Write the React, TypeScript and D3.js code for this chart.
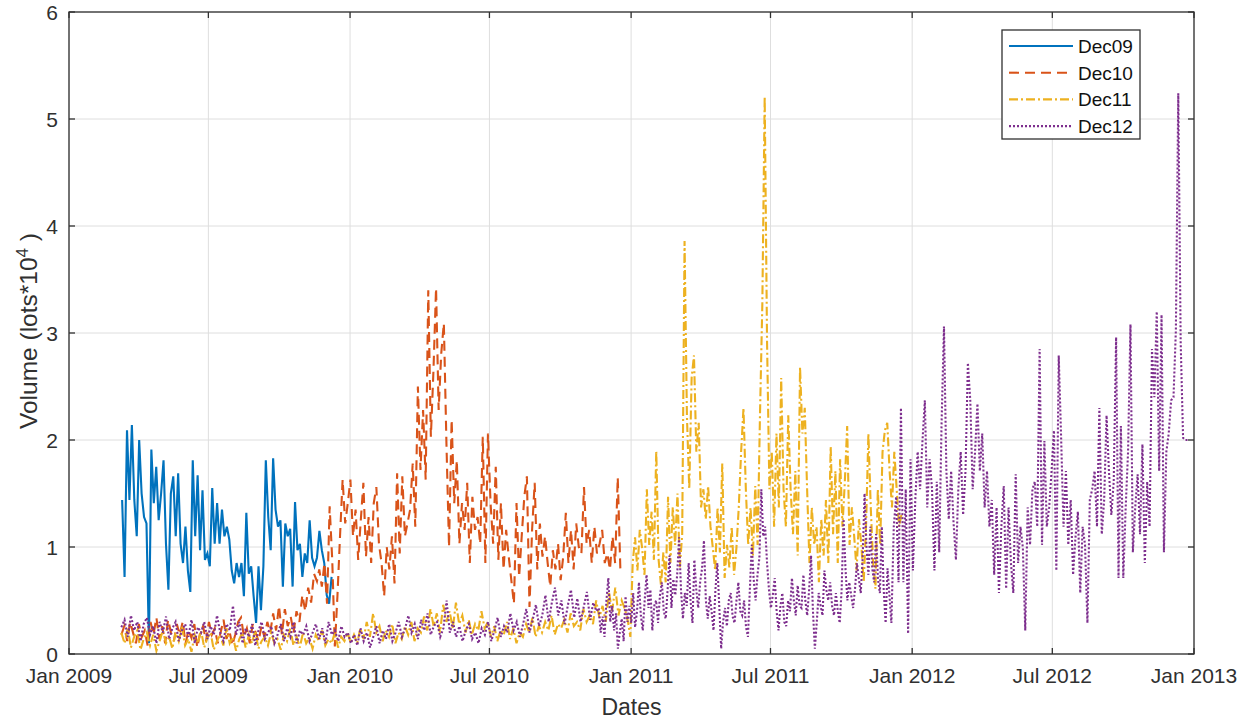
import * as d3 from "d3";

// each segment: values, spread evenly between two dates
const dec09Span = ["2009-03-11", "2009-12-08"];
const dec09Values = [
  1.44, 0.72, 2.09, 1.44, 2.14, 1.44, 1.1, 2.0, 1.5, 1.28, 1.22, 0.1, 1.91, 1.41, 1.75, 1.25, 1.5, 1.81, 1.03, 0.6,
  1.5, 1.66, 1.1, 1.69, 1.03, 0.85, 1.19, 0.78, 0.58, 1.81, 1.1, 1.67, 0.97, 1.53, 0.88, 0.94, 0.82, 1.55, 1.03, 1.41,
  1.03, 1.35, 1.1, 1.19, 1.07, 0.78, 0.66, 0.85, 0.72, 0.85, 0.54, 1.32, 0.75, 0.82, 0.54, 0.29, 0.82, 0.41, 0.82, 1.81,
  1.28, 0.97, 1.83, 1.35, 1.19, 1.25, 0.63, 1.22, 1.1, 1.17, 0.63, 1.42, 0.97, 1.03, 0.72, 0.94, 0.85, 1.25, 0.9, 0.82,
  0.9, 1.15, 0.97, 0.85, 0.55, 0.47, 0.72,
];

const dec10EarlySpan = ["2009-03-10", "2009-11-19"];
const dec10EarlyValues = [
  0.18, 0.26, 0.12, 0.3, 0.2, 0.1, 0.28, 0.16, 0.22, 0.08, 0.3, 0.18, 0.34, 0.14, 0.26, 0.1, 0.32, 0.2, 0.12, 0.28,
  0.18, 0.3, 0.1, 0.22, 0.15, 0.28, 0.06, 0.2, 0.26, 0.12, 0.3, 0.18, 0.24, 0.1, 0.2, 0.32, 0.14, 0.22, 0.08, 0.18,
  0.3, 0.34, 0.16, 0.24, 0.1, 0.28, 0.2, 0.12, 0.26, 0.16, 0.3, 0.2, 0.38, 0.22, 0.45, 0.18, 0.42, 0.26, 0.35, 0.2,
  0.4, 0.3, 0.55, 0.4, 0.62, 0.48, 0.75, 0.68,
];
const dec10LateSpan = ["2009-11-22", "2010-12-18"];
const dec10LateValues = [
  0.79, 0.63, 0.85, 0.47, 1.38, 0.88, 0.07, 0.54, 1.1, 1.63, 1.22, 1.41, 1.63, 1.1, 1.35, 0.88, 1.25, 1.6, 0.91, 1.28,
  0.85, 1.41, 1.56, 1.03, 0.85, 0.54, 1.0, 0.79, 1.1, 0.66, 1.69, 0.94, 1.66, 1.1, 1.22, 1.35, 1.78, 1.19, 2.5, 1.72,
  2.28, 1.63, 3.4, 2.03, 2.65, 3.42, 2.28, 2.81, 3.09, 1.97, 1.0, 2.19, 1.41, 1.81, 1.03, 1.41, 1.16, 1.6, 0.85, 1.47,
  1.16, 1.28, 1.03, 2.03, 0.85, 2.06, 1.41, 1.03, 1.75, 0.88, 1.41, 0.79, 1.16, 0.91, 0.69, 0.47, 1.41, 0.72, 1.1, 1.47,
  1.66, 0.44, 1.16, 1.6, 0.79, 1.22, 0.91, 1.1, 0.85, 0.63, 0.97, 0.79, 1.03, 0.69, 0.91, 1.32, 0.85, 1.16, 0.79, 1.22,
  1.0, 0.94, 1.56, 1.03, 1.16, 0.85, 1.19, 0.94, 1.03, 1.16, 0.85, 0.94, 0.79, 1.1, 0.85, 1.65, 0.8,
];

const dec11EarlySpan = ["2009-03-10", "2010-12-28"];
const dec11EarlyValues = [
  0.2, 0.1, 0.24, 0.06, 0.16, 0.22, 0.04, 0.14, 0.2, 0.08, 0.18, 0.03, 0.12, 0.22, 0.1, 0.16, 0.05, 0.2, 0.12, 0.26,
  0.08, 0.14, 0.02, 0.18, 0.1, 0.22, 0.06, 0.15, 0.2, 0.04, 0.12, 0.18, 0.08, 0.24, 0.1, 0.16, 0.03, 0.14, 0.2, 0.06,
  0.18, 0.1, 0.22, 0.05, 0.12, 0.16, 0.08, 0.2, 0.1, 0.14, 0.04, 0.18, 0.12, 0.24, 0.08, 0.16, 0.06, 0.2, 0.1, 0.15,
  0.05, 0.18, 0.12, 0.22, 0.08, 0.14, 0.1, 0.2, 0.06, 0.16, 0.12, 0.2, 0.1,
  0.18, 0.1, 0.24, 0.14, 0.3, 0.16, 0.38, 0.2, 0.26, 0.12, 0.22, 0.16, 0.28, 0.1, 0.2, 0.14, 0.26, 0.18, 0.3, 0.12,
  0.24, 0.2, 0.35, 0.22, 0.42, 0.26, 0.38, 0.2, 0.46, 0.3, 0.4, 0.24, 0.48, 0.28, 0.36, 0.2, 0.32, 0.18, 0.28, 0.22,
  0.4, 0.24, 0.3, 0.16, 0.26, 0.12, 0.22, 0.18, 0.3, 0.14, 0.24, 0.1, 0.2, 0.16, 0.28, 0.2, 0.34, 0.16, 0.26, 0.2,
  0.3, 0.22, 0.36, 0.18, 0.28, 0.24, 0.32, 0.2, 0.38, 0.26, 0.3, 0.22, 0.42, 0.3, 0.36, 0.28, 0.5, 0.34, 0.45, 0.3,
  0.58, 0.4, 0.62, 0.36, 0.5, 0.42, 0.3,
];
const dec11LateSpan = ["2010-12-31", "2011-12-18"];
const dec11LateValues = [
  0.16, 0.85, 1.09, 0.78, 1.16, 0.99, 0.74, 1.54, 1.02, 1.33, 0.88, 1.9, 0.88, 0.64, 0.95, 0.67, 1.47, 0.85, 1.37, 1.02,
  1.5, 0.81, 1.12, 3.86, 2.23, 1.54, 2.58, 2.79, 1.89, 2.16, 1.37, 1.54, 1.26, 1.57, 1.19, 0.99, 0.78, 1.37, 0.95, 1.78,
  0.71, 1.02, 0.81, 1.19, 0.74, 0.99, 1.37, 1.89, 2.3, 1.54, 1.02, 1.37, 0.92, 1.57, 1.02, 2.23, 3.27, 5.21, 2.92, 1.54,
  1.89, 1.19, 2.06, 1.37, 2.58, 1.54, 1.19, 2.23, 1.54, 1.12, 1.71, 0.92, 2.68, 2.06, 2.3, 1.54, 0.85, 1.37, 1.02, 1.19,
  0.67, 1.26, 0.92, 1.44, 0.85, 1.94, 1.12, 1.71, 0.85, 1.82, 1.19, 1.61, 2.13, 1.02, 1.37, 1.09, 0.78, 1.26, 1.02, 0.67,
  1.19, 2.06, 1.37, 0.85, 0.61, 1.54, 1.02, 1.89, 2.09, 2.16, 1.71, 1.37, 1.89, 1.54, 1.19, 1.3,
];

const dec12EarlySpan = ["2009-03-10", "2010-11-17"];
const dec12EarlyValues = [
  0.25, 0.32, 0.16, 0.36, 0.22, 0.3, 0.12, 0.28, 0.34, 0.18, 0.26, 0.1, 0.3, 0.2, 0.35, 0.14, 0.24, 0.3, 0.12, 0.22,
  0.28, 0.16, 0.32, 0.1, 0.25, 0.2, 0.3, 0.14, 0.26, 0.18, 0.36, 0.2, 0.12, 0.28, 0.22, 0.45, 0.18, 0.3, 0.1, 0.24,
  0.16, 0.28, 0.08, 0.22, 0.3, 0.14, 0.2, 0.26, 0.1, 0.18, 0.28, 0.12, 0.24, 0.16, 0.3, 0.1, 0.22, 0.18, 0.26, 0.12,
  0.2, 0.28, 0.14, 0.24, 0.1, 0.3, 0.18, 0.22, 0.12, 0.26, 0.16, 0.2, 0.1,
  0.18, 0.08, 0.24, 0.12, 0.2, 0.06, 0.16, 0.26, 0.1, 0.22, 0.14, 0.28, 0.12, 0.2, 0.3, 0.16, 0.24, 0.36, 0.2, 0.28,
  0.14, 0.32, 0.22, 0.38, 0.18, 0.26, 0.3, 0.16, 0.24, 0.5, 0.2, 0.3, 0.16, 0.26, 0.12, 0.22, 0.28, 0.14, 0.2, 0.1,
  0.24, 0.18, 0.3, 0.12, 0.22, 0.34, 0.16, 0.26, 0.2, 0.38, 0.22, 0.3, 0.16, 0.28, 0.42, 0.2, 0.32, 0.46, 0.26, 0.36,
  0.55, 0.3, 0.48, 0.62, 0.36, 0.5, 0.28, 0.45, 0.6, 0.34, 0.52, 0.3, 0.44, 0.58, 0.32, 0.48, 0.4,
];
const dec12MidSpan = ["2010-11-20", "2011-11-30"];
const dec12MidValues = [
  0.43, 0.2, 0.35, 0.16, 0.5, 0.71, 0.3, 0.45, 0.22, 0.38, 0.05, 0.2, 0.33, 0.12, 0.54, 0.3, 0.45, 0.29, 0.57, 0.25,
  0.4, 0.67, 0.36, 0.22, 0.5, 0.74, 0.43, 0.6, 0.22, 0.45, 0.5, 0.29, 0.55, 0.67, 0.4, 0.33, 0.6, 0.92, 0.43, 0.7,
  0.55, 0.74, 1.09, 0.6, 0.33, 0.57, 0.45, 0.85, 0.5, 0.29, 0.88, 0.6, 0.43, 0.67, 0.8, 1.06, 0.5, 0.33, 0.54, 0.4,
  0.22, 0.6, 0.85, 0.45, 0.05, 0.3, 0.43, 0.26, 0.5, 0.57, 0.35, 0.29, 0.5, 0.67, 0.4, 0.36, 0.5, 0.25, 0.16, 0.6,
  1.02, 0.7, 0.5, 0.74, 0.9, 1.54, 1.1, 1.19, 0.85, 0.6, 0.43, 0.55, 0.71, 0.4, 0.22, 0.45, 0.57, 0.3, 0.26, 0.5,
  0.4, 0.71, 0.5, 0.36, 0.64, 0.45, 0.43, 0.74, 0.5, 0.36, 0.6, 0.92, 0.4, 0.05, 0.3, 0.57, 0.45, 0.36, 0.78, 0.6,
  0.5, 0.67, 0.45, 0.36, 0.57, 0.4, 0.29, 0.6, 1.26, 0.8, 0.5, 0.67, 0.55, 0.43, 0.61, 0.85, 0.7, 0.57, 0.9, 1.5,
  1.0, 0.74, 1.19, 0.8, 0.67, 1.12, 0.7, 0.57, 1.19, 0.6, 0.29, 0.8,
];
const dec12LateSpan = ["2011-12-05", "2012-12-24"];
const dec12LateValues = [
  0.29, 1.19, 1.47, 0.67, 2.3, 0.67, 1.54, 0.19, 1.82, 0.78, 1.44, 1.89, 1.54, 1.99, 2.37, 1.37, 1.82, 1.54, 0.78, 1.61,
  0.95, 2.16, 3.06, 1.71, 1.26, 1.71, 1.23, 0.88, 1.54, 1.89, 1.3, 1.71, 2.72, 2.37, 1.54, 1.89, 2.34, 1.71, 2.06, 1.37,
  1.71, 1.19, 1.44, 0.74, 1.37, 0.57, 1.19, 1.57, 0.61, 1.37, 0.85, 0.57, 1.68, 0.85, 1.19, 0.99, 0.22, 1.37, 1.02, 1.54,
  1.61, 1.19, 2.85, 1.02, 1.99, 1.19, 1.37, 1.71, 2.09, 0.78, 2.79, 2.02, 1.19, 1.71, 1.02, 1.44, 0.74, 1.09, 1.33, 0.57,
  1.19, 1.02, 0.29, 1.44, 1.54, 1.71, 1.19, 2.3, 1.12, 1.44, 2.23, 1.71, 1.3, 1.61, 2.96, 0.71, 2.13, 0.71, 1.37, 1.89,
  3.08, 0.95, 1.37, 1.68, 1.12, 1.96, 0.85, 1.61, 1.19, 2.85, 2.4, 3.2, 1.71, 3.17, 0.95, 1.89, 2.06, 2.37, 2.4, 3.03,
  5.24, 2.92, 2.02, 2.0, 2.0,
];

const seriesNames = ["Dec09", "Dec10", "Dec11", "Dec12"];
const seriesColors = ["#0072BD", "#D95319", "#EDB120", "#7E2F8E"];
const seriesDashes = ["none", "10,6", "9,3,2,3", "2,2"];
const yTicks = [0, 1, 2, 3, 4, 5, 6];

const parse = d3.utcParse("%Y-%m-%d");

function spread(span: string[], values: number[]) {
  const t0 = parse(span[0])!.getTime();
  const t1 = parse(span[1])!.getTime();
  return values.map((v, i) => ({ date: new Date(t0 + ((t1 - t0) * i) / (values.length - 1)), value: v }));
}

const seriesData = [
  spread(dec09Span, dec09Values),
  [...spread(dec10EarlySpan, dec10EarlyValues), ...spread(dec10LateSpan, dec10LateValues)],
  [...spread(dec11EarlySpan, dec11EarlyValues), ...spread(dec11LateSpan, dec11LateValues)],
  [
    ...spread(dec12EarlySpan, dec12EarlyValues),
    ...spread(dec12MidSpan, dec12MidValues),
    ...spread(dec12LateSpan, dec12LateValues),
  ],
];

export default function App() {
  const W = 1254;
  const H = 720;
  const left = 69, right = 1194, top = 12, bottom = 654;
  const font = "'Liberation Sans', Arial, Helvetica, sans-serif";
  const ink = "#303030";

  const x = d3.scaleUtc().domain([parse("2009-01-01")!, parse("2013-01-01")!]).range([left, right]);
  const y = d3.scaleLinear().domain([0, 6]).range([bottom, top]);
  const xTicks = d3.utcMonth.every(6)!.range(parse("2009-01-01")!, parse("2013-01-02")!);
  const fmt = d3.utcFormat("%b %Y");

  const line = d3
    .line<{ date: Date; value: number }>()
    .x((d) => x(d.date))
    .y((d) => y(d.value));

  const tick = 6;

  return (
    <svg width={W} height={H} style={{ position: "absolute", left: 0, top: 0, background: "#fff" }} fontFamily={font}>
      <rect x={left} y={top} width={right - left} height={bottom - top} fill="#fff" />
      {/* grid */}
      {xTicks.map((t, i) => (
        <line key={"gx" + i} x1={x(t)} x2={x(t)} y1={top} y2={bottom} stroke="#dedede" strokeWidth={1} />
      ))}
      {yTicks.map((t) => (
        <line key={"gy" + t} x1={left} x2={right} y1={y(t)} y2={y(t)} stroke="#dedede" strokeWidth={1} />
      ))}

      {/* series */}
      {seriesData.map((d, i) => (
        <path
          key={seriesNames[i]}
          d={line(d) ?? ""}
          fill="none"
          stroke={seriesColors[i]}
          strokeWidth={2.1}
          strokeDasharray={seriesDashes[i]}
          strokeLinejoin="miter"
        />
      ))}

      {/* box and ticks */}
      <rect x={left} y={top} width={right - left} height={bottom - top} fill="none" stroke={ink} strokeWidth={1.3} />
      {xTicks.map((t, i) => (
        <g key={"tx" + i}>
          <line x1={x(t)} x2={x(t)} y1={bottom} y2={bottom - tick} stroke={ink} strokeWidth={1.3} />
          <line x1={x(t)} x2={x(t)} y1={top} y2={top + tick} stroke={ink} strokeWidth={1.3} />
          <text x={x(t)} y={683} textAnchor="middle" fontSize={21} fill={ink}>
            {fmt(t)}
          </text>
        </g>
      ))}
      {yTicks.map((t) => (
        <g key={"ty" + t}>
          <line x1={left} x2={left + tick} y1={y(t)} y2={y(t)} stroke={ink} strokeWidth={1.3} />
          <line x1={right} x2={right - tick} y1={y(t)} y2={y(t)} stroke={ink} strokeWidth={1.3} />
          <text x={left - 11} y={y(t)} dy="0.36em" textAnchor="end" fontSize={21} fill={ink}>
            {t}
          </text>
        </g>
      ))}

      {/* axis labels */}
      <text x={(left + right) / 2} y={715} textAnchor="middle" fontSize={23} fill={ink}>
        Dates
      </text>
      <text transform={`translate(37, 331) rotate(-90)`} textAnchor="middle" fontSize={24.5} fill={ink}>
        Volume (lots*10
        <tspan fontSize={17} dy={-9}>
          4
        </tspan>
        <tspan dy={9}> )</tspan>
      </text>

      {/* legend */}
      <rect x={1002} y={30} width={138} height={109} fill="#fff" stroke={ink} strokeWidth={1.3} />
      {seriesNames.map((n, i) => {
        const ly = 46 + i * 26.7;
        return (
          <g key={"lg" + n}>
            <line
              x1={1009}
              x2={1073}
              y1={ly}
              y2={ly}
              stroke={seriesColors[i]}
              strokeWidth={2.1}
              strokeDasharray={seriesDashes[i]}
            />
            <text x={1078} y={ly} dy="0.36em" fontSize={19} fill="#111">
              {n}
            </text>
          </g>
        );
      })}
    </svg>
  );
}
